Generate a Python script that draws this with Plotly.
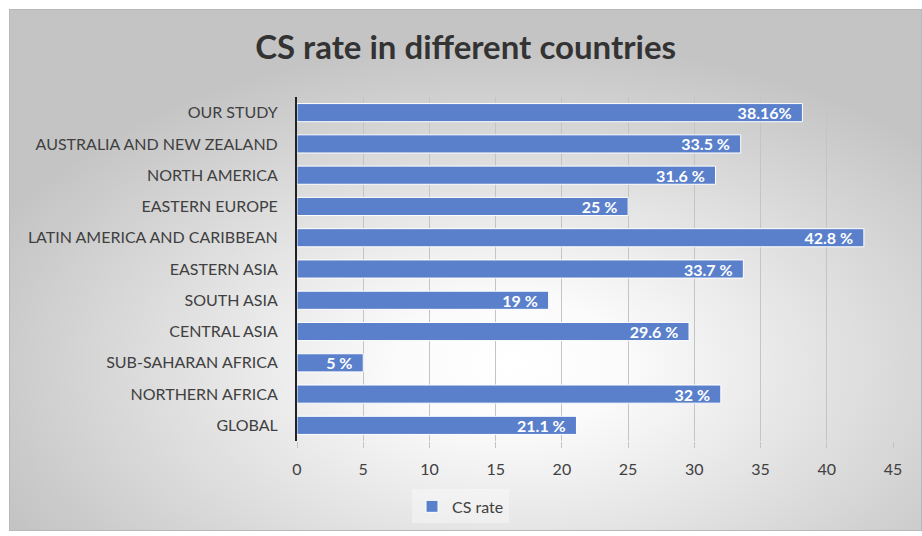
import base64
import plotly.graph_objects as go

# Caesarean section rates by region
regions = [
    "OUR STUDY",
    "AUSTRALIA AND NEW ZEALAND",
    "NORTH AMERICA",
    "EASTERN EUROPE",
    "LATIN AMERICA AND CARIBBEAN",
    "EASTERN ASIA",
    "SOUTH ASIA",
    "CENTRAL ASIA",
    "SUB-SAHARAN AFRICA",
    "NORTHERN AFRICA",
    "GLOBAL",
]
cs_rate = [38.16, 33.5, 31.6, 25, 42.8, 33.7, 19, 29.6, 5, 32, 21.1]
rate_labels = ["38.16%", "33.5 %", "31.6 %", "25 %", "42.8 %", "33.7 %",
               "19 %", "29.6 %", "5 %", "32 %", "21.1 %"]
x_ticks = [0, 5, 10, 15, 20, 25, 30, 35, 40, 45]

FONT = "Lato"
BLUE = "#5A80CC"

# Radial grey-to-white backdrop for the chart panel
svg = """<svg xmlns='http://www.w3.org/2000/svg' width='913' height='528' viewBox='0 0 913 528' preserveAspectRatio='none'>
<defs><radialGradient id='g' cx='0.55' cy='0.68' r='0.62'>
<stop offset='0' stop-color='#ffffff'/>
<stop offset='0.2' stop-color='#fbfbfb'/>
<stop offset='1' stop-color='#c4c4c4'/>
</radialGradient></defs>
<rect x='0' y='0' width='913' height='528' fill='url(#g)'/>
<rect x='0.5' y='0.5' width='912' height='527' fill='none' stroke='#b8b8b8' stroke-width='1'/>
</svg>"""
bg_src = "data:image/svg+xml;base64," + base64.b64encode(svg.encode()).decode()

W, H = 922, 536
L, R, T, B = 297, 29, 97, 91
pw, ph = W - L - R, H - T - B

fig = go.Figure()
fig.add_trace(go.Bar(
    x=cs_rate,
    y=regions,
    orientation="h",
    name="CS rate",
    marker=dict(color=BLUE, line=dict(color="white", width=1)),
    text=rate_labels,
    texttemplate="%{text}\u00a0\u00a0",
    textposition="inside",
    insidetextanchor="end",
    constraintext="none",
    textfont=dict(family=FONT, size=16, color="white", weight="bold"),
    cliponaxis=False,
))

fig.update_layout(
    width=W,
    height=H,
    margin=dict(l=L, r=R, t=T, b=B, pad=0),
    paper_bgcolor="white",
    plot_bgcolor="rgba(0,0,0,0)",
    bargap=0.42,
    showlegend=True,
    title=dict(
        text="<b>CS rate in different countries</b>",
        x=0.505, xref="container", xanchor="center",
        y=1 - 47 / H, yref="container", yanchor="middle",
        font=dict(family=FONT, size=33, color="#333333"),
    ),
    legend=dict(
        x=(412 - L) / pw, y=(T + ph - 494) / ph,
        xanchor="left", yanchor="top",
        bgcolor="rgba(255,255,255,0.35)",
        font=dict(family=FONT, size=16, color="#404040"),
        itemwidth=30,
    ),
    images=[dict(
        source=bg_src, xref="paper", yref="paper",
        x=(9 - L) / pw, y=1 + (T - 8) / ph,
        sizex=(W - 9) / pw, sizey=(H - 8) / ph,
        sizing="stretch", layer="below", xanchor="left", yanchor="top",
    )],
)

fig.update_xaxes(
    range=[0, 45],
    tickvals=x_ticks,
    showgrid=True,
    gridcolor="#c4c4c4",
    gridwidth=1,
    zeroline=False,
    ticks="outside",
    ticklen=6,
    tickcolor="#c4c4c4",
    ticklabelstandoff=8,
    tickfont=dict(family=FONT, size=16, color="#404040"),
    showline=False,
)

fig.update_yaxes(
    categoryorder="array",
    categoryarray=regions[::-1],
    autorange=True,
    showgrid=False,
    showline=True,
    linecolor="#222222",
    linewidth=2,
    ticks="",
    ticklabelstandoff=14,
    tickfont=dict(family=FONT, size=16, color="#404040"),
)

fig.write_html("out.html")
